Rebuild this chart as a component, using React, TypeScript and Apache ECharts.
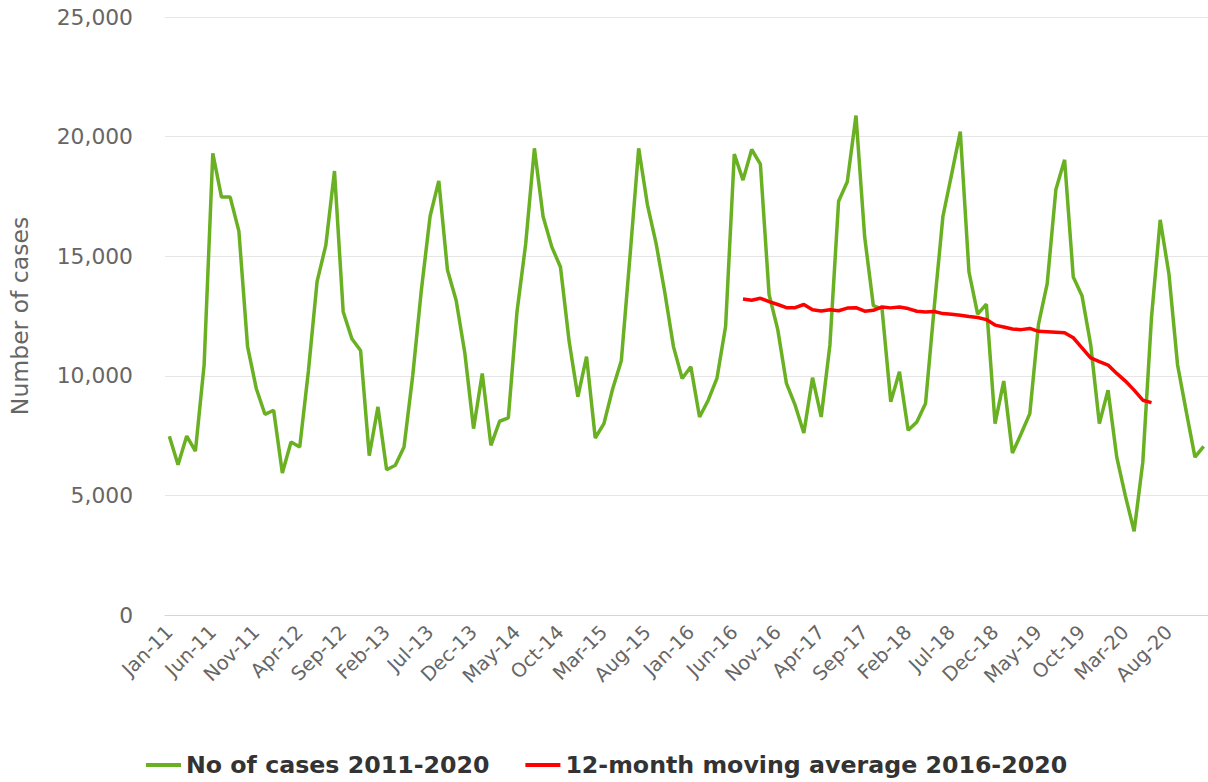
import React, { useEffect, useRef } from "react";
import * as echarts from "echarts";

const monthNames = ["Jan", "Feb", "Mar", "Apr", "May", "Jun", "Jul", "Aug", "Sep", "Oct", "Nov", "Dec"];
const years = [11, 12, 13, 14, 15, 16, 17, 18, 19, 20];
const categories: string[] = [];
years.forEach((y) => monthNames.forEach((m) => categories.push(`${m}-${y}`)));

const cases: number[] = [
  // 2011
  7470, 6280, 7480, 6850, 10450, 19300, 17470, 17470, 16050, 11220, 9470, 8390,
  // 2012
  8560, 5940, 7230, 7020, 10200, 13950, 15450, 18560, 12680, 11550, 11060, 6660,
  // 2013
  8700, 6070, 6260, 7020, 10000, 13600, 16670, 18150, 14420, 13150, 10940, 7790,
  // 2014
  10100, 7090, 8100, 8240, 12680, 15520, 19510, 16660, 15390, 14550, 11430, 9120,
  // 2015
  10800, 7400, 8000, 9450, 10630, 15000, 19510, 17160, 15540, 13490, 11220, 9890,
  // 2016
  10380, 8280, 8980, 9890, 12070, 19270, 18180, 19460, 18850, 13400, 11930, 9680,
  // 2017
  8770, 7610, 9920, 8280, 11290, 17300, 18110, 20880, 15800, 12930, 12790, 8910,
  // 2018
  10170, 7720, 8070, 8840, 12860, 16660, 18420, 20210, 14340, 12580, 13000, 8000,
  // 2019
  9780, 6770, 7580, 8420, 12160, 13850, 17790, 19030, 14130, 13350, 11310, 8000,
  // 2020
  9400, 6600, 4970, 3500, 6390, 12440, 16520, 14270, 10450, 8500, 6600, 7050,
];

// 12-month moving average, Jul-16 .. Jun-20
const movingAvgStart = 66;
const movingAvg: number[] = [
  13210, 13160, 13240, 13100, 12980, 12850, 12850, 12980, 12760, 12710, 12760, 12720,
  12830, 12850, 12700, 12740, 12880, 12840, 12880, 12810, 12700, 12670, 12690, 12600,
  12570, 12530, 12480, 12440, 12350, 12120, 12040, 11960, 11930, 11980, 11860, 11840,
  11820, 11800, 11590, 11170, 10750, 10590, 10450, 10100, 9780, 9400, 8980, 8880,
];

const yTicks = [0, 5000, 10000, 15000, 20000, 25000];

const FONT = "DejaVu Sans, Verdana, sans-serif";

export default function App() {
  const ref = useRef<HTMLDivElement>(null);
  useEffect(() => {
    if (!ref.current) return;
    const chart = echarts.init(ref.current, undefined, { renderer: "svg" });
    const maSeries: (number | null)[] = categories.map((_, i) => {
      const k = i - movingAvgStart;
      return k >= 0 && k < movingAvg.length ? movingAvg[k] : null;
    });
    chart.setOption({
      animation: false,
      backgroundColor: "#ffffff",
      textStyle: { fontFamily: FONT },
      grid: { left: 165, right: -4.4, top: 17, bottom: 167 },
      legend: {
        bottom: 0,
        left: 141,
        itemGap: 36,
        itemWidth: 35,
        itemHeight: 4,
        icon: "rect",
        textStyle: { fontFamily: FONT, fontSize: 23.7, fontWeight: "bold", color: "#333333", padding: [0, 0, 0, 0] },
        data: ["No of cases 2011-2020", "12-month moving average 2016-2020"],
      },
      xAxis: {
        type: "category",
        data: categories,
        boundaryGap: true,
        axisLine: { show: true, lineStyle: { color: "#ccd6eb", width: 1 } },
        axisTick: { show: false },
        axisLabel: {
          interval: 4,
          rotate: 45,
          margin: 14,
          color: "#666666",
          fontSize: 19.5,
          fontFamily: FONT,
        },
        splitLine: { show: false },
      },
      yAxis: {
        type: "value",
        min: yTicks[0],
        max: yTicks[yTicks.length - 1],
        interval: 5000,
        name: "Number of cases",
        nameLocation: "middle",
        nameGap: 133,
        nameTextStyle: { color: "#666666", fontSize: 23.5, fontFamily: FONT },
        axisLine: { show: false },
        axisTick: { show: false },
        axisLabel: {
          margin: 32,
          color: "#666666",
          fontSize: 21.8,
          fontFamily: FONT,
          formatter: (v: number) => v.toLocaleString("en-US"),
        },
        splitLine: { show: true, lineStyle: { color: "#e6e6e6", width: 1 } },
      },
      series: [
        {
          name: "No of cases 2011-2020",
          type: "line",
          data: cases,
          showSymbol: false,
          symbol: "none",
          lineStyle: { color: "#6ab023", width: 3.5 },
          itemStyle: { color: "#6ab023" },
          z: 2,
        },
        {
          name: "12-month moving average 2016-2020",
          type: "line",
          data: maSeries,
          showSymbol: false,
          symbol: "none",
          lineStyle: { color: "#ff0000", width: 3.5 },
          itemStyle: { color: "#ff0000" },
          z: 3,
        },
      ],
    });
    return () => chart.dispose();
  }, []);
  return (
    <div
      ref={ref}
      style={{ position: "fixed", left: 0, top: 0, width: 1208, height: 782, background: "#fff" }}
    />
  );
}
